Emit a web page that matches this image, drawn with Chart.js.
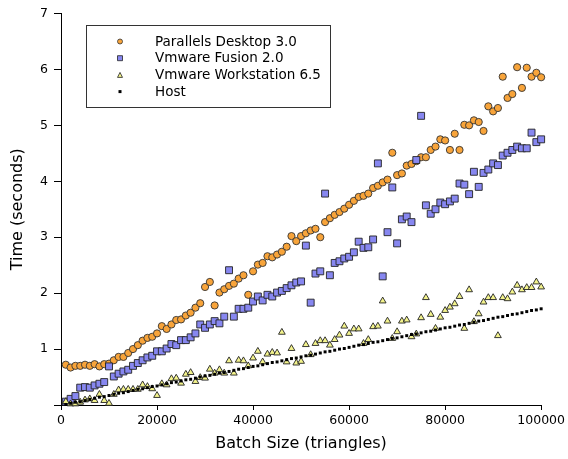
<!DOCTYPE html>
<html>
<head>
<meta charset="utf-8">
<title>Batch size vs. time</title>
<script src="https://cdn.jsdelivr.net/npm/chart.js@4.4.1/dist/chart.umd.min.js"></script>
<style>
  html, body { margin: 0; padding: 0; background: #fff; }
  #wrap { width: 568px; height: 459px; }
</style>
</head>
<body>
<div id="wrap"><canvas id="chart" width="568" height="459"></canvas></div>
<script>
// Batch sizes (triangles) shared by all four series
const batchSizes = [
  1000, 2000, 3000, 4000, 5000, 6000, 7000, 8000, 9000, 10000,
  11000, 12000, 13000, 14000, 15000, 16000, 17000, 18000, 19000, 20000,
  21000, 22000, 23000, 24000, 25000, 26000, 27000, 28000, 29000, 30000,
  31000, 32000, 33000, 34000, 35000, 36000, 37000, 38000, 39000, 40000,
  41000, 42000, 43000, 44000, 45000, 46000, 47000, 48000, 49000, 50000,
  51000, 52000, 53000, 54000, 55000, 56000, 57000, 58000, 59000, 60000,
  61000, 62000, 63000, 64000, 65000, 66000, 67000, 68000, 69000, 70000,
  71000, 72000, 73000, 74000, 75000, 76000, 77000, 78000, 79000, 80000,
  81000, 82000, 83000, 84000, 85000, 86000, 87000, 88000, 89000, 90000,
  91000, 92000, 93000, 94000, 95000, 96000, 97000, 98000, 99000, 100000
];

// Times in seconds
const parallelsTimes = [
  0.72, 0.67, 0.70, 0.70, 0.72, 0.70, 0.73, 0.69, 0.73, 0.74,
  0.80, 0.86, 0.86, 0.93, 1.00, 1.07, 1.15, 1.20, 1.22, 1.28,
  1.41, 1.36, 1.44, 1.52, 1.53, 1.60, 1.65, 1.74, 1.82, 2.11,
  2.20, 1.78, 2.01, 2.07, 2.13, 2.17, 2.26, 2.32, 1.97, 2.39,
  2.51, 2.54, 2.66, 2.64, 2.69, 2.74, 2.83, 3.02, 2.93, 3.02,
  3.07, 3.12, 3.15, 3.00, 3.27, 3.34, 3.40, 3.45, 3.51, 3.58,
  3.65, 3.72, 3.74, 3.78, 3.88, 3.92, 3.98, 4.03, 4.51, 4.11,
  4.14, 4.28, 4.31, 4.36, 4.43, 4.43, 4.56, 4.62, 4.75, 4.73,
  4.56, 4.85, 4.56, 5.01, 5.00, 5.09, 5.06, 4.90, 5.34, 5.25,
  5.31, 5.87, 5.49, 5.56, 6.04, 5.67, 6.03, 5.87, 5.94, 5.86
];

const fusionTimes = [
  0.06, 0.11, 0.16, 0.31, 0.32, 0.31, 0.35, 0.38, 0.41, 0.69,
  0.51, 0.56, 0.60, 0.63, 0.70, 0.75, 0.80, 0.85, 0.88, 0.96,
  0.96, 1.01, 1.09, 1.07, 1.16, 1.16, 1.21, 1.28, 1.44, 1.38,
  1.44, 1.50, 1.46, 1.58, 2.41, 1.58, 1.72, 1.72, 1.74, 1.85,
  1.94, 1.87, 1.97, 1.94, 2.01, 2.04, 2.09, 2.14, 2.19, 2.21,
  2.85, 1.83, 2.35, 2.39, 3.78, 2.32, 2.54, 2.57, 2.62, 2.65,
  2.73, 2.92, 2.81, 2.82, 2.96, 4.32, 2.30, 3.09, 3.89, 2.89,
  3.32, 3.37, 3.27, 4.38, 5.17, 3.57, 3.42, 3.50, 3.62, 3.59,
  3.64, 3.69, 3.96, 3.94, 3.77, 4.17, 3.90, 4.15, 4.21, 4.32,
  4.29, 4.46, 4.51, 4.56, 4.62, 4.59, 4.59, 4.87, 4.70, 4.75
];

const workstationTimes = [
  0.06, 0.02, 0.02, 0.05, 0.09, 0.11, 0.08, 0.19, 0.08, 0.03,
  0.19, 0.27, 0.28, 0.28, 0.28, 0.28, 0.36, 0.33, 0.29, 0.17,
  0.38, 0.36, 0.47, 0.48, 0.39, 0.55, 0.58, 0.42, 0.49, 0.48,
  0.64, 0.57, 0.63, 0.57, 0.79, 0.57, 0.80, 0.79, 0.70, 0.84,
  0.96, 0.77, 0.91, 0.94, 0.93, 1.30, 0.77, 1.01, 0.75, 0.78,
  1.08, 0.90, 1.10, 1.15, 1.15, 1.07, 1.17, 1.25, 1.41, 1.28,
  1.36, 1.36, 1.10, 1.17, 1.40, 1.41, 1.86, 1.50, 1.19, 1.31,
  1.50, 1.52, 1.22, 1.27, 1.56, 1.92, 1.62, 1.37, 1.57, 1.69,
  1.75, 1.81, 1.94, 1.37, 2.06, 1.49, 1.63, 1.84, 1.92, 1.92,
  1.24, 1.92, 1.90, 2.02, 2.14, 2.06, 2.10, 2.10, 2.20, 2.11
];

const hostTimes = [
  0.01, 0.03, 0.05, 0.06, 0.08, 0.10, 0.12, 0.14, 0.15, 0.17,
  0.19, 0.21, 0.22, 0.24, 0.26, 0.28, 0.29, 0.31, 0.33, 0.34,
  0.36, 0.38, 0.40, 0.41, 0.43, 0.45, 0.46, 0.48, 0.50, 0.52,
  0.53, 0.55, 0.57, 0.58, 0.60, 0.62, 0.64, 0.65, 0.67, 0.69,
  0.70, 0.72, 0.74, 0.76, 0.77, 0.79, 0.81, 0.83, 0.84, 0.86,
  0.88, 0.89, 0.91, 0.93, 0.95, 0.96, 0.98, 1.00, 1.01, 1.03,
  1.05, 1.07, 1.08, 1.10, 1.12, 1.13, 1.15, 1.17, 1.19, 1.20,
  1.22, 1.24, 1.26, 1.27, 1.29, 1.31, 1.32, 1.34, 1.36, 1.38,
  1.39, 1.41, 1.43, 1.44, 1.46, 1.48, 1.50, 1.51, 1.53, 1.55,
  1.57, 1.58, 1.60, 1.62, 1.63, 1.65, 1.67, 1.69, 1.70, 1.72
];

const seriesLabels = ['Parallels Desktop 3.0', 'Vmware Fusion 2.0', 'Vmware Workstation 6.5', 'Host'];

const xTickValues = [0, 20000, 40000, 60000, 80000, 100000];
const yTickValues = [0, 1, 2, 3, 4, 5, 6, 7];
const yTickLabels = ['', '1', '2', '3', '4', '5', '6', '7'];

Chart.defaults.font.family = '"DejaVu Sans", sans-serif';
Chart.defaults.color = '#000';

function toPoints(values) {
  return batchSizes.map((x, i) => ({ x: x, y: values[i] }));
}

// Small marker drawer for the boxed legend
function drawLegendMarker(ctx, style, x, y, size, fill, stroke) {
  ctx.beginPath();
  if (style === 'circle') {
    ctx.arc(x, y, size / 2, 0, Math.PI * 2);
  } else if (style === 'triangle') {
    ctx.moveTo(x, y - size / 2);
    ctx.lineTo(x + size / 2, y + size / 2);
    ctx.lineTo(x - size / 2, y + size / 2);
    ctx.closePath();
  } else {
    ctx.rect(x - size / 2, y - size / 2, size, size);
  }
  ctx.fillStyle = fill;
  ctx.fill();
  if (stroke) {
    ctx.lineWidth = 0.8;
    ctx.strokeStyle = stroke;
    ctx.stroke();
  }
}

const legendMarkerSizes = [5, 5, 5, 3];

const boxLegend = {
  id: 'boxLegend',
  afterDraw(chart) {
    const ctx = chart.ctx;
    ctx.save();
    ctx.fillStyle = '#fff';
    ctx.fillRect(86, 25, 244, 82);
    ctx.strokeStyle = '#333';
    ctx.lineWidth = 1;
    ctx.strokeRect(86.5, 25.5, 244, 82);

    // legend rows follow the drawing order of the series labels
    seriesLabels.forEach((label, i) => {
      const ds = chart.data.datasets.find(d => d.label === label);
      const rowY = 41.5 + i * 16.7;
      drawLegendMarker(ctx, ds.pointStyle, 120, rowY, legendMarkerSizes[i],
        ds.backgroundColor, ds.pointBorderWidth ? ds.borderColor : null);
      ctx.fillStyle = '#000';
      ctx.font = '13.5px "DejaVu Sans"';
      ctx.textBaseline = 'middle';
      ctx.textAlign = 'left';
      ctx.fillText(label, 155, rowY + 0.5);
    });
    ctx.restore();
  }
};

new Chart(document.getElementById('chart'), {
  type: 'scatter',
  data: {
    datasets: [
      {
        label: seriesLabels[0],
        data: toPoints(parallelsTimes),
        pointStyle: 'circle',
        pointRadius: 3.6,
        backgroundColor: '#f8a43a',
        borderColor: '#333',
        pointBorderWidth: 0.9,
        order: 3,
        clip: false
      },
      {
        label: seriesLabels[1],
        data: toPoints(fusionTimes),
        pointStyle: 'rect',
        pointRadius: 4.9,
        backgroundColor: '#8787f0',
        borderColor: '#222',
        pointBorderWidth: 0.9,
        order: 2,
        clip: false
      },
      {
        label: seriesLabels[2],
        data: toPoints(workstationTimes),
        pointStyle: 'triangle',
        pointRadius: 3.9,
        backgroundColor: '#f3f38c',
        borderColor: '#222',
        pointBorderWidth: 0.9,
        order: 1,
        clip: false
      },
      {
        label: seriesLabels[3],
        data: toPoints(hostTimes),
        pointStyle: 'rect',
        pointRadius: 2.1,
        backgroundColor: '#000',
        borderColor: '#000',
        pointBorderWidth: 0,
        order: 0,
        clip: false
      }
    ]
  },
  options: {
    responsive: false,
    animation: false,
    devicePixelRatio: 1,
    layout: {
      padding: { left: 0, right: 25, top: 11, bottom: 0 }
    },
    plugins: {
      legend: { display: false },
      tooltip: { enabled: false }
    },
    scales: {
      x: {
        type: 'linear',
        min: 0,
        max: 100000,
        afterBuildTicks: scale => {
          scale.ticks = xTickValues.map(v => ({ value: v }));
        },
        afterFit: scale => { scale.height = 54; },
        ticks: {
          font: { size: 12.5 },
          color: '#000',
          padding: 3,
          maxRotation: 0,
          autoSkip: false,
          callback: value => String(value)
        },
        grid: {
          drawOnChartArea: false,
          drawTicks: true,
          tickLength: 5,
          color: '#000'
        },
        border: { display: true, color: '#000', width: 1 },
        title: {
          display: true,
          text: 'Batch Size (triangles)',
          font: { size: 16 },
          color: '#000',
          padding: { top: 0, bottom: 6 }
        }
      },
      y: {
        type: 'linear',
        min: 0,
        max: 7,
        afterBuildTicks: scale => {
          scale.ticks = yTickValues.map(v => ({ value: v }));
        },
        afterFit: scale => { scale.width = 61; },
        ticks: {
          font: { size: 12.5 },
          color: '#000',
          padding: 6,
          autoSkip: false,
          callback: (value, index) => yTickLabels[index]
        },
        grid: {
          drawOnChartArea: false,
          drawTicks: true,
          tickLength: 7,
          color: '#000'
        },
        border: { display: true, color: '#000', width: 1 },
        title: {
          display: true,
          text: 'Time (seconds)',
          font: { size: 16 },
          color: '#000',
          padding: { top: 8, bottom: 0 }
        }
      }
    }
  },
  plugins: [boxLegend]
});
</script>
</body>
</html>
